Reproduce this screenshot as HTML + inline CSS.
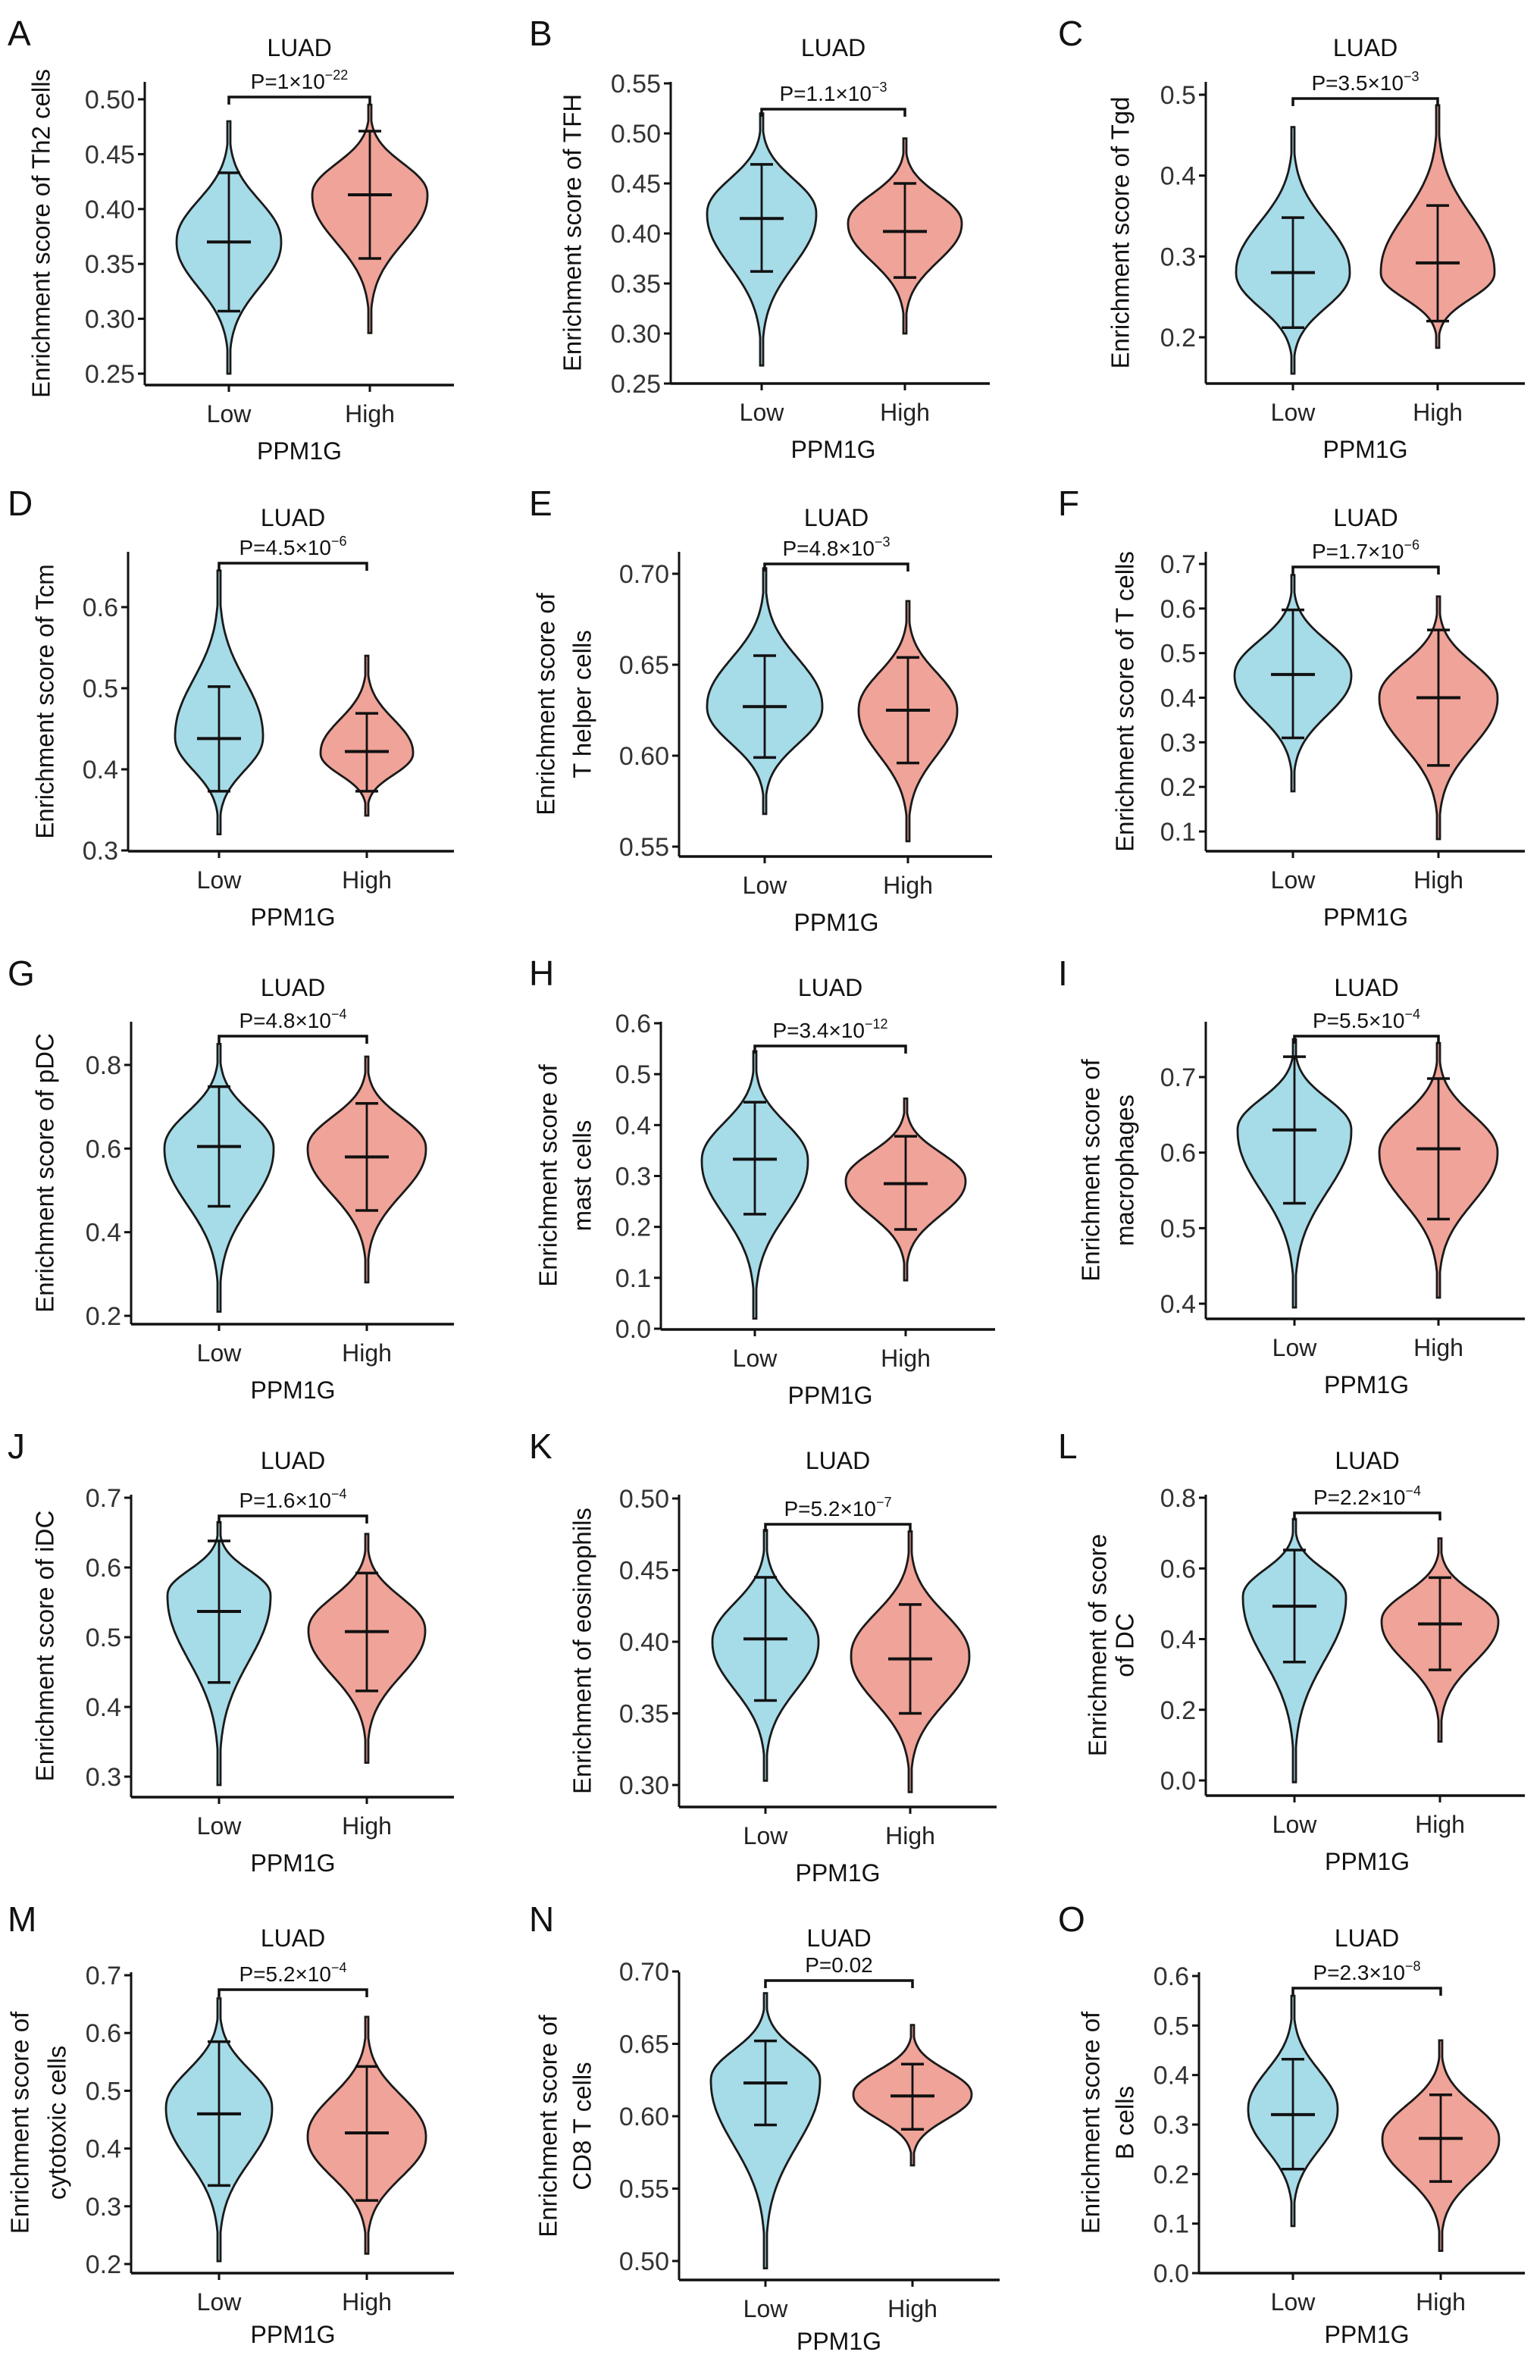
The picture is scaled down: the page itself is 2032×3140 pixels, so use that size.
<!DOCTYPE html>
<html><head><meta charset="utf-8">
<style>
html,body{margin:0;padding:0;background:#fff;}
svg{display:block;font-family:"Liberation Sans",Arial,sans-serif;}
</style></head>
<body>
<svg id="fig" width="2032" height="3140" viewBox="0 0 2032 3140" xmlns="http://www.w3.org/2000/svg"></svg>
<script>
// ---- data (panel order A..O) ----
const panelLetters = ["A","B","C","D","E","F","G","H","I","J","K","L","M","N","O"];
const groups = ["Low","High"];
const lowMin  = [.25,.268,.155,.32,.568,.19,.21,.02,.395,.288,.303,-.005,.205,.495,.095];
const lowMax  = [.48,.52,.46,.645,.703,.675,.85,.545,.75,.665,.478,.74,.66,.685,.56];
const lowMode = [.37,.42,.28,.44,.627,.45,.6,.33,.63,.56,.40,.52,.47,.625,.33];
const lowQ1   = [.307,.362,.212,.373,.599,.31,.462,.225,.533,.435,.359,.335,.336,.594,.21];
const lowQ3   = [.433,.469,.348,.502,.655,.597,.748,.445,.727,.638,.445,.652,.585,.652,.432];
const lowMean = [.37,.415,.28,.438,.627,.452,.605,.333,.63,.537,.402,.493,.46,.623,.32];
const highMin  = [.287,.30,.187,.343,.553,.083,.28,.095,.408,.32,.295,.11,.218,.566,.045];
const highMax  = [.495,.495,.487,.54,.685,.627,.82,.452,.745,.648,.477,.685,.628,.663,.47];
const highMode = [.413,.41,.28,.42,.625,.40,.6,.29,.6,.51,.39,.45,.42,.615,.27];
const highQ1   = [.355,.356,.22,.373,.596,.248,.452,.195,.512,.423,.35,.313,.31,.591,.185];
const highQ3   = [.471,.45,.363,.469,.654,.552,.708,.378,.698,.592,.426,.574,.542,.636,.36];
const highMean = [.413,.402,.292,.422,.625,.40,.58,.285,.605,.508,.388,.443,.427,.614,.272];
const pMant = ["1","1.1","3.5","4.5","4.8","1.7","4.8","3.4","5.5","1.6","5.2","2.2","5.2","0.02","2.3"];
const pExp  = ["−22","−3","−3","−6","−3","−6","−4","−12","−4","−4","−7","−4","−4","","−8"];
const tickLabels = [
 ["0.25","0.30","0.35","0.40","0.45","0.50"],
 ["0.25","0.30","0.35","0.40","0.45","0.50","0.55"],
 ["0.2","0.3","0.4","0.5"],
 ["0.3","0.4","0.5","0.6"],
 ["0.55","0.60","0.65","0.70"],
 ["0.1","0.2","0.3","0.4","0.5","0.6","0.7"],
 ["0.2","0.4","0.6","0.8"],
 ["0.0","0.1","0.2","0.3","0.4","0.5","0.6"],
 ["0.4","0.5","0.6","0.7"],
 ["0.3","0.4","0.5","0.6","0.7"],
 ["0.30","0.35","0.40","0.45","0.50"],
 ["0.0","0.2","0.4","0.6","0.8"],
 ["0.2","0.3","0.4","0.5","0.6","0.7"],
 ["0.50","0.55","0.60","0.65","0.70"],
 ["0.0","0.1","0.2","0.3","0.4","0.5","0.6"]
];
const yTitles = [
 ["Enrichment score of Th2 cells"],["Enrichment score of TFH"],["Enrichment score of Tgd"],
 ["Enrichment score of Tcm"],["Enrichment score of","T helper cells"],["Enrichment score of T cells"],
 ["Enrichment score of pDC"],["Enrichment score of","mast cells"],["Enrichment score of","macrophages"],
 ["Enrichment score of iDC"],["Enrichment of eosinophils"],["Enrichment of score","of DC"],
 ["Enrichment score of","cytotoxic cells"],["Enrichment score of","CD8 T cells"],["Enrichment score of","B cells"]
];
// ---- layout (pixels) ----
const L = {
 axisX:[191,885,1591,169,896,1591,173,872,1591,173,896,1591,173,896,1582],
 bottom:[508,506,506,1123,1130,1123,1747,1754,1740,2371,2384,2369,2999,3008,2999],
 right:[599,1306,2012,599,1309,2012,599,1313,2012,599,1315,2012,599,1319,2012],
 lowX:[302,1005,1706,289,1009,1706,289,996,1708,289,1010,1708,289,1010,1706],
 highX:[488,1194,1897,484,1198,1898,484,1195,1898,484,1201,1900,484,1204,1901],
 vTop:[.50,.55,.5,.6,.70,.7,.8,.6,.7,.7,.50,.8,.7,.70,.6],
 yTop:[131,110,125,801,757,744,1405,1350,1421,1976,1977,1976,2606,2601,2607],
 vBot:[.25,.25,.2,.3,.55,.1,.2,0,.4,.3,.30,0,.2,.50,0],
 yBot:[493,506,445,1122,1117,1097,1736,1753,1720,2344,2355,2349,2987,2983,2999],
 bracket:[128,144,130,743,744,748,1367,1380,1367,2000,2011,1996,2625,2613,2623],
 lowW:[69,72,75,58,76,77,72,70,75,68,70,68,70,72,59],
 highW:[76,75,75,61,65,78,78,79,78,77,78,77,78,78,77],
 titleX:[[54],[755],[1478],[59],[720,768],[1484],[59],[723,768],[1439,1484],[59],[768],[1448,1484],[26,75],[723,768],[1439,1484]],
 letterX:[10,698,1396],
 rowTop:[0,620,1240,1864,2488]
};
const NS="http://www.w3.org/2000/svg";
const svg=document.getElementById('fig');
function mk(tag,attrs,parent,text){
  const e=document.createElementNS(NS,tag);
  for(const k in attrs) e.setAttribute(k,attrs[k]);
  if(text!==undefined) e.textContent=text;
  (parent||svg).appendChild(e); return e;
}
function violinPath(cx,yf,mn,mx,mode,W){
  const n=100, sL=(mode-mn)/3.0, sH=(mx-mode)/3.0;
  const pts=[];
  for(let i=0;i<=n;i++){
    const v=mn+(mx-mn)*i/n;
    const s=v<mode?sL:sH;
    let w=W*Math.exp(-0.5*Math.pow(Math.abs((v-mode)/s),2.2));
    w=Math.max(w,2);
    pts.push([v,w]);
  }
  let d="";
  pts.forEach((p,i)=>{d+=(i?"L":"M")+(cx+p[1]).toFixed(1)+","+yf(p[0]).toFixed(1);});
  for(let i=pts.length-1;i>=0;i--){const p=pts[i];d+="L"+(cx-p[1]).toFixed(1)+","+yf(p[0]).toFixed(1);}
  return d+"Z";
}
for(let i=0;i<15;i++){
  const row=Math.floor(i/3), col=i%3, top=L.rowTop[row];
  const g=mk('g',{});
  
  
  const yf=v=>L.yBot[i]+(v-L.vBot[i])*(L.yTop[i]-L.yBot[i])/(L.vTop[i]-L.vBot[i]);
  const ax=L.axisX[i], bot=L.bottom[i], axTop=top+(row===4?114:108);
  const mid=(L.lowX[i]+L.highX[i])/2;
  const lt=mk('text',{x:L.letterX[col],y:top+60,'font-size':46,fill:'#111'},g,panelLetters[i]);
  
  
  const ti=mk('text',{x:mid,y:top+(row===4?80:74),'font-size':32,'text-anchor':'middle',fill:'#111'},g,'LUAD');
  
  
  const ya=mk('line',{x1:ax,y1:axTop,x2:ax,y2:bot,stroke:'#111','stroke-width':3},g);
  
  
  const xa=mk('line',{x1:ax,y1:bot,x2:L.right[i],y2:bot,stroke:'#111','stroke-width':3.5},g);
  
  
  tickLabels[i].forEach(lbl=>{
    const y=yf(parseFloat(lbl));
    mk('line',{x1:ax-9,y1:y,x2:ax,y2:y,stroke:'#111','stroke-width':3},g);
    const t=mk('text',{x:ax-13,y:y+12,'font-size':34,'text-anchor':'end',fill:'#333'},g,lbl);
    
    
  });
  const lines=yTitles[i], ymid=(axTop+bot)/2;
  lines.forEach((ln,k)=>{
    const tx=L.titleX[i][k];
    const t=mk('text',{x:tx,y:ymid,'font-size':33,'text-anchor':'middle','dominant-baseline':'central',transform:`rotate(-90 ${tx} ${ymid})`,fill:'#111'},g,ln);
    
    
  });
  [L.lowX[i],L.highX[i]].forEach((x,k)=>{
    mk('line',{x1:x,y1:bot,x2:x,y2:bot+9,stroke:'#111','stroke-width':3},g);
    const t=mk('text',{x:x,y:bot+49,'font-size':32,'text-anchor':'middle',fill:'#222'},g,groups[k]);
    
    
  });
  const xt=mk('text',{x:mid,y:bot+(row===4?92:98),'font-size':32,'text-anchor':'middle',fill:'#111'},g,'PPM1G');
  
  
  const spec=[
    [L.lowX[i],lowMin[i],lowMax[i],lowMode[i],lowQ1[i],lowQ3[i],lowMean[i],L.lowW[i],'#a6dbe8','low'],
    [L.highX[i],highMin[i],highMax[i],highMode[i],highQ1[i],highQ3[i],highMean[i],L.highW[i],'#f0a398','high']
  ];
  spec.forEach(s=>{
    const [cx,mn,mx,mode,q1,q3,mean,W,col2,nm]=s;
    const v=mk('path',{d:violinPath(cx,yf,mn,mx,mode,W),fill:col2,stroke:'#1a1a1a','stroke-width':2.8},g);
    
    
    const wl=mk('line',{x1:cx,y1:yf(q1),x2:cx,y2:yf(q3),stroke:'#111','stroke-width':2.8},g);
    
    
    mk('line',{x1:cx-15,y1:yf(q1),x2:cx+15,y2:yf(q1),stroke:'#111','stroke-width':3.5},g);
    mk('line',{x1:cx-15,y1:yf(q3),x2:cx+15,y2:yf(q3),stroke:'#111','stroke-width':3.5},g);
    const ml=mk('line',{x1:cx-29,y1:yf(mean),x2:cx+29,y2:yf(mean),stroke:'#111','stroke-width':4},g);
    
    
  });
  const by=L.bracket[i];
  const br=mk('path',{d:`M${L.lowX[i]},${by+10}L${L.lowX[i]},${by}L${L.highX[i]},${by}L${L.highX[i]},${by+10}`,fill:'none',stroke:'#111','stroke-width':3.5},g);
  
  
  const pt=mk('text',{x:mid,y:by-11,'font-size':28,'text-anchor':'middle',fill:'#111'},g);
  
  
  if(pExp[i]===""){ pt.textContent='P='+pMant[i]; }
  else{
    mk('tspan',{},pt,'P='+pMant[i]+'×10');
    mk('tspan',{'font-size':18,dy:-12},pt,pExp[i]);
  }
}
</script>
</body></html>
